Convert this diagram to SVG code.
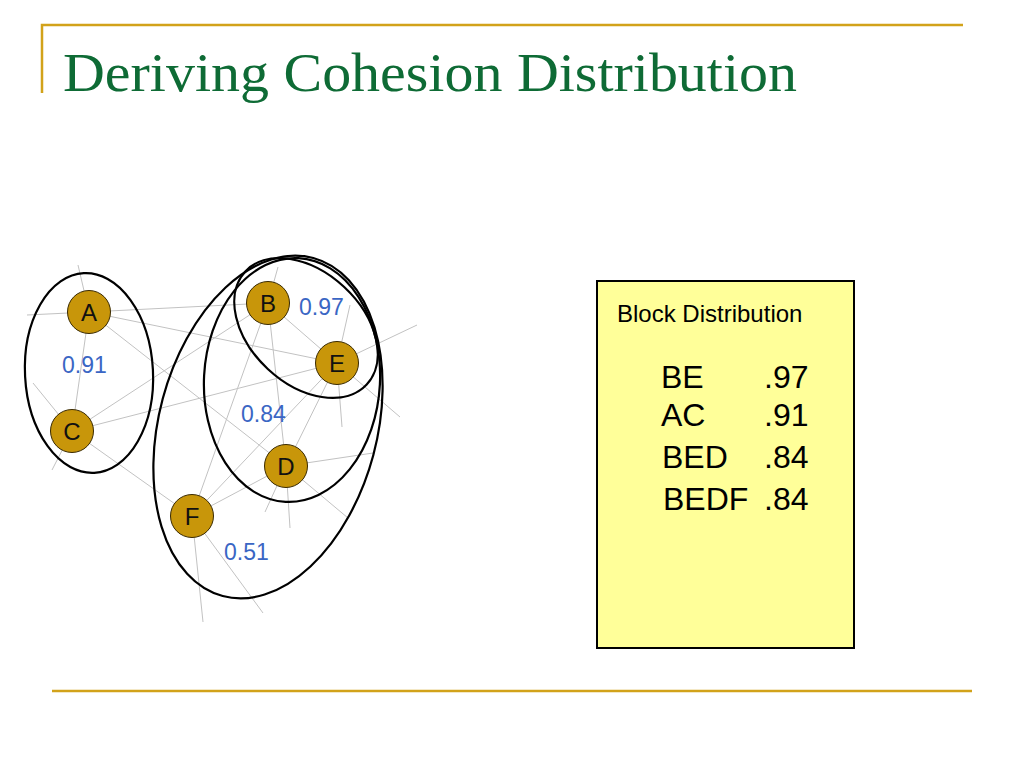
<svg xmlns="http://www.w3.org/2000/svg" width="1024" height="768" viewBox="0 0 1024 768">
<style>
.rule{stroke:#D2A21A;stroke-width:2.5;fill:none}
.edge{stroke:#C2C2C2;stroke-width:1}
.hull{fill:none;stroke:#000;stroke-width:2.2}
.node circle{fill:#C8960A;stroke:#3a2a00;stroke-width:1}
.node text{font-family:"Liberation Sans",Arial,sans-serif;font-size:24px;fill:#111;text-anchor:middle}
.w{font-family:"Liberation Sans",Arial,sans-serif;font-size:23px;fill:#3A66C4}
.big{font-family:"Liberation Sans",Arial,sans-serif;font-size:32px;fill:#000}
</style>
<rect width="1024" height="768" fill="#fff"/>
<g id="frame">
<polyline class="rule" points="42,93 42,25 963,25"/>
<line class="rule" x1="52" y1="691" x2="972" y2="691"/>
</g>
<text id="title" x="63" y="91" font-family="Liberation Serif,Times New Roman,serif" font-size="55" fill="#0E6B35" textLength="734" lengthAdjust="spacingAndGlyphs">Deriving Cohesion Distribution</text>
<g id="connectors">
<line class="edge" x1="89" y1="312" x2="268" y2="303"/>
<line class="edge" x1="89" y1="312" x2="337" y2="363"/>
<line class="edge" x1="89" y1="312" x2="286" y2="466"/>
<line class="edge" x1="89" y1="312" x2="72" y2="431"/>
<line class="edge" x1="72" y1="431" x2="268" y2="303"/>
<line class="edge" x1="72" y1="431" x2="337" y2="363"/>
<line class="edge" x1="72" y1="431" x2="192" y2="516"/>
<line class="edge" x1="268" y1="303" x2="337" y2="363"/>
<line class="edge" x1="268" y1="303" x2="286" y2="466"/>
<line class="edge" x1="268" y1="303" x2="192" y2="516"/>
<line class="edge" x1="337" y1="363" x2="286" y2="466"/>
<line class="edge" x1="337" y1="363" x2="192" y2="516"/>
<line class="edge" x1="286" y1="466" x2="192" y2="516"/>
<line class="edge" x1="89" y1="312" x2="27" y2="315"/>
<line class="edge" x1="89" y1="312" x2="78" y2="265"/>
<line class="edge" x1="72" y1="431" x2="33" y2="383"/>
<line class="edge" x1="72" y1="431" x2="52" y2="470"/>
<line class="edge" x1="268" y1="303" x2="278" y2="267"/>
<line class="edge" x1="337" y1="363" x2="350" y2="305"/>
<line class="edge" x1="337" y1="363" x2="417" y2="325"/>
<line class="edge" x1="337" y1="363" x2="400" y2="417"/>
<line class="edge" x1="337" y1="363" x2="342" y2="427"/>
<line class="edge" x1="286" y1="466" x2="373" y2="453"/>
<line class="edge" x1="286" y1="466" x2="290" y2="528"/>
<line class="edge" x1="286" y1="466" x2="265" y2="512"/>
<line class="edge" x1="286" y1="466" x2="348" y2="518"/>
<line class="edge" x1="192" y1="516" x2="203" y2="622"/>
<line class="edge" x1="192" y1="516" x2="263" y2="613"/>
</g>
<g id="blocks">
<ellipse id="blk-AC" class="hull" cx="89" cy="373" rx="64" ry="100" transform="rotate(-3 89 373)"/>
<ellipse id="blk-BE" class="hull" cx="306" cy="328" rx="83" ry="56" transform="rotate(43 306 328)"/>
<ellipse id="blk-BED" class="hull" cx="292" cy="380" rx="88" ry="122" transform="rotate(3 292 380)"/>
<ellipse id="blk-BEDF" class="hull" cx="268" cy="427" rx="109" ry="175" transform="rotate(15 268 427)"/>
</g>
<g id="node-A" class="node"><circle cx="89" cy="312" r="21.5"/><text x="89" y="320.5">A</text></g>
<g id="node-B" class="node"><circle cx="268" cy="303" r="21.5"/><text x="268" y="311.5">B</text></g>
<g id="node-C" class="node"><circle cx="72" cy="431" r="21.5"/><text x="72" y="439.5">C</text></g>
<g id="node-D" class="node"><circle cx="286" cy="466" r="21.5"/><text x="286" y="474.5">D</text></g>
<g id="node-E" class="node"><circle cx="337" cy="363" r="21.5"/><text x="337" y="371.5">E</text></g>
<g id="node-F" class="node"><circle cx="192" cy="516" r="21.5"/><text x="192" y="524.5">F</text></g>
<g id="weights">
<text class="w" x="299" y="315">0.97</text>
<text class="w" x="62" y="373">0.91</text>
<text class="w" x="241" y="422">0.84</text>
<text class="w" x="224" y="560">0.51</text>
</g>
<g id="block-distribution">
<rect x="597" y="281" width="257" height="367" fill="#FFFF99" stroke="#000" stroke-width="2"/>
<text x="617" y="322" font-family="Liberation Sans,Arial,sans-serif" font-size="24" fill="#000">Block Distribution</text>
<text class="big" x="661" y="388">BE</text><text class="big" x="764" y="388">.97</text>
<text class="big" x="661" y="426">AC</text><text class="big" x="764" y="426">.91</text>
<text class="big" x="662" y="468">BED</text><text class="big" x="764" y="468">.84</text>
<text class="big" x="663" y="510">BEDF</text><text class="big" x="764" y="510">.84</text>
</g>
</svg>
